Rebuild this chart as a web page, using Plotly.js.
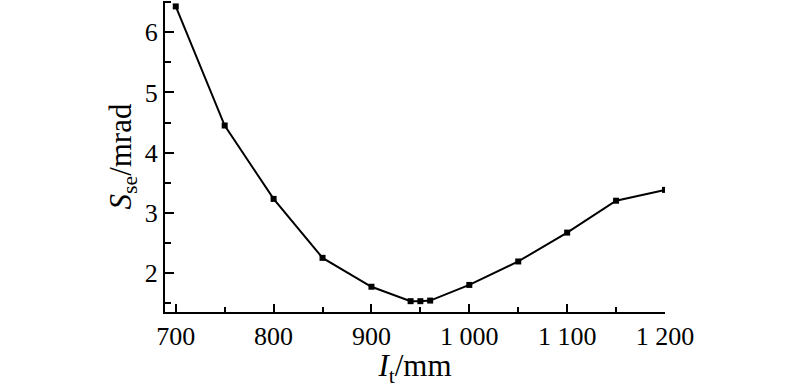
<!DOCTYPE html>
<html>
<head>
<meta charset="utf-8">
<script src="https://cdn.plot.ly/plotly-3.0.1.min.js"></script>
<style>html,body{margin:0;padding:0;background:#fff;}#chart{width:800px;height:388px;}</style>
</head>
<body>
<div id="chart"></div>
<script>
const lengthMm = [700, 750, 800, 850, 900, 940, 950, 960, 1000, 1050, 1100, 1150, 1200];
const sseMrad = [6.43, 4.45, 3.23, 2.25, 1.77, 1.53, 1.53, 1.54, 1.80, 2.19, 2.67, 3.20, 3.38];

const fam = 'Liberation Serif';
const ink = 'black';
const trace = {
  x: lengthMm,
  y: sseMrad,
  mode: 'lines+markers',
  line: {color: ink, width: 2},
  marker: {symbol: 'square', size: 6, color: ink}
};

const layout = {
  width: 800, height: 388,
  margin: {l: 165, r: 135, t: 1, b: 76},
  font: {family: fam, size: 26, color: ink},
  separators: '. ',
  showlegend: false,
  xaxis: {
    range: [689, 1200],
    dtick: 100, tick0: 700,
    tickformat: ',d',
    ticks: 'inside', ticklen: 8, tickwidth: 2, tickcolor: ink,
    minor: {ticks: 'inside', dtick: 50, ticklen: 5, tickwidth: 2, tickcolor: ink},
    tickfont: {family: fam, size: 26, color: ink},
    showline: true, linecolor: ink, linewidth: 2,
    showgrid: false, zeroline: false, layer: 'above traces',
    title: {text: '<i>I</i><sub>t</sub>/mm', standoff: 4}
  },
  yaxis: {
    range: [1.35, 6.52],
    dtick: 1,
    ticks: 'inside', ticklen: 9, tickwidth: 2, tickcolor: ink,
    minor: {ticks: 'inside', dtick: 0.5, ticklen: 6, tickwidth: 2, tickcolor: ink},
    tickfont: {family: fam, size: 26, color: ink},
    showline: true, linecolor: ink, linewidth: 2,
    showgrid: false, zeroline: false, layer: 'above traces',
    title: {text: '<i>S</i><sub>se</sub>/mrad', standoff: 4}
  }
};

Plotly.newPlot('chart', [trace], layout, {displayModeBar: false});
</script>
</body>
</html>
